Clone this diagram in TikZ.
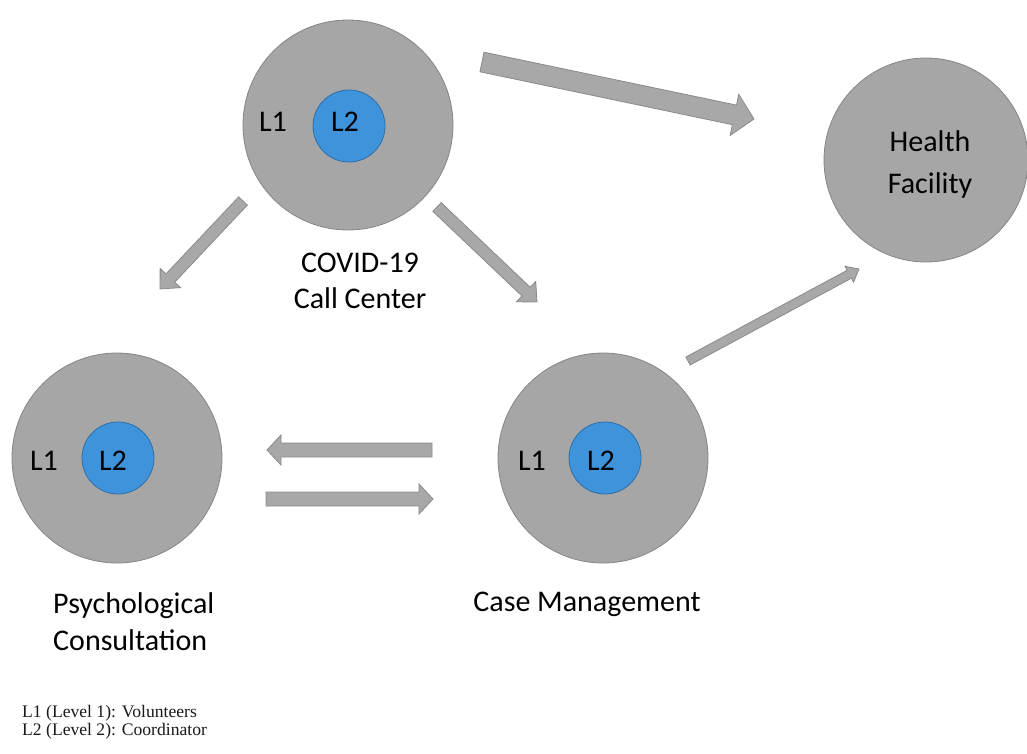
\documentclass[tikz,border=0pt]{standalone}
\usepackage{fontspec}
\setmainfont{Carlito}
\newfontfamily\legendfont{Liberation Serif}
\usetikzlibrary{calc}
\definecolor{circfill}{HTML}{A6A6A6}
\definecolor{circline}{HTML}{858585}
\definecolor{bluefill}{HTML}{3F93DB}
\definecolor{blueline}{HTML}{2E6FA6}
\definecolor{arrfill}{HTML}{A8A8A8}
\definecolor{arrline}{HTML}{8A8A8A}
\tikzset{
  outer/.style={circle, fill=circfill, draw=circline, line width=0.8pt, minimum size=210pt, inner sep=0pt},
  inner/.style={circle, fill=bluefill, draw=blueline, line width=0.8pt, minimum size=72pt, inner sep=0pt},
  lbl/.style={font=\fontsize{30}{36}\selectfont, inner sep=0pt},
  blockarr/.style={fill=arrfill, draw=arrline, line width=0.8pt, line join=miter}
}
% #1 start, #2 end, #3 shaft half width, #4 head half width, #5 head length
\newcommand\blockarrow[5]{%
  \path[blockarr] let \p1=(#1), \p2=(#2), \n1={atan2(\y2-\y1,\x2-\x1)}, \n2={veclen(\x2-\x1,\y2-\y1)} in
    [shift={(\p1)}, rotate=\n1]
    (0pt,-#3pt) -- (\n2-#5pt,-#3pt) -- (\n2-#5pt,-#4pt) -- (\n2,0pt) -- (\n2-#5pt,#4pt) -- (\n2-#5pt,#3pt) -- (0pt,#3pt) -- cycle;}
\begin{document}
\begin{tikzpicture}[x=1pt,y=-1pt]
\useasboundingbox (0,0) rectangle (1027,753);
% circles
\node[outer] (cc) at (348,125) {};
\node[inner] (ccin) at (349,126) {};
\node[lbl] (ccl1) at (273,122) {L1};
\node[lbl] (ccl2) at (345,122) {L2};
\node[outer, minimum size=204pt] (hf) at (926,160) {};
\node[lbl, align=center, font=\fontsize{30}{42}\selectfont] (hft) at (930,164) {Health\\Facility};
\node[outer] (pc) at (117,458) {};
\node[inner] (pcin) at (118,458) {};
\node[lbl] (pcl1) at (44,461) {L1};
\node[lbl] (pcl2) at (113,461) {L2};
\node[outer] (cm) at (603,458) {};
\node[inner] (cmin) at (605,458) {};
\node[lbl] (cml1) at (532,461) {L1};
\node[lbl] (cml2) at (601,461) {L2};
% captions
\node[lbl, align=center, font=\fontsize{30}{36}\selectfont] (cct) at (360,281) {COVID-19\\Call Center};
\node[lbl, align=left, anchor=west, font=\fontsize{30}{37}\selectfont] (pct) at (53,622) {Psychological\\Consultation};
\node[lbl] (cmt) at (587,604) {Case Management};
% arrows
\coordinate (a1s) at (482,62);
\coordinate (a1e) at (754,119);
\coordinate (a2s) at (243,201);
\coordinate (a2e) at (160,289);
\coordinate (a3s) at (437,207);
\coordinate (a3e) at (537,302);
\coordinate (a4s) at (432,450);
\coordinate (a4e) at (267,450);
\coordinate (a5s) at (266,499);
\coordinate (a5e) at (433,499);
\coordinate (a6s) at (688,361);
\coordinate (a6e) at (859,269);
\blockarrow{a1s}{a1e}{10}{21}{20}
\blockarrow{a2s}{a2e}{6}{14}{15}
\blockarrow{a3s}{a3e}{6}{14}{15}
\blockarrow{a4s}{a4e}{7}{15}{14}
\blockarrow{a5s}{a5e}{7}{15}{14}
\blockarrow{a6s}{a6e}{4.5}{9}{11}
% legend
\node[anchor=north west, align=left, inner sep=0pt, text=black!90, font=\legendfont\fontsize{17.6}{18}\selectfont] (leg) at (22,705) {L1 (Level 1): Volunteers\\L2 (Level 2): Coordinator};
\end{tikzpicture}
\end{document}
